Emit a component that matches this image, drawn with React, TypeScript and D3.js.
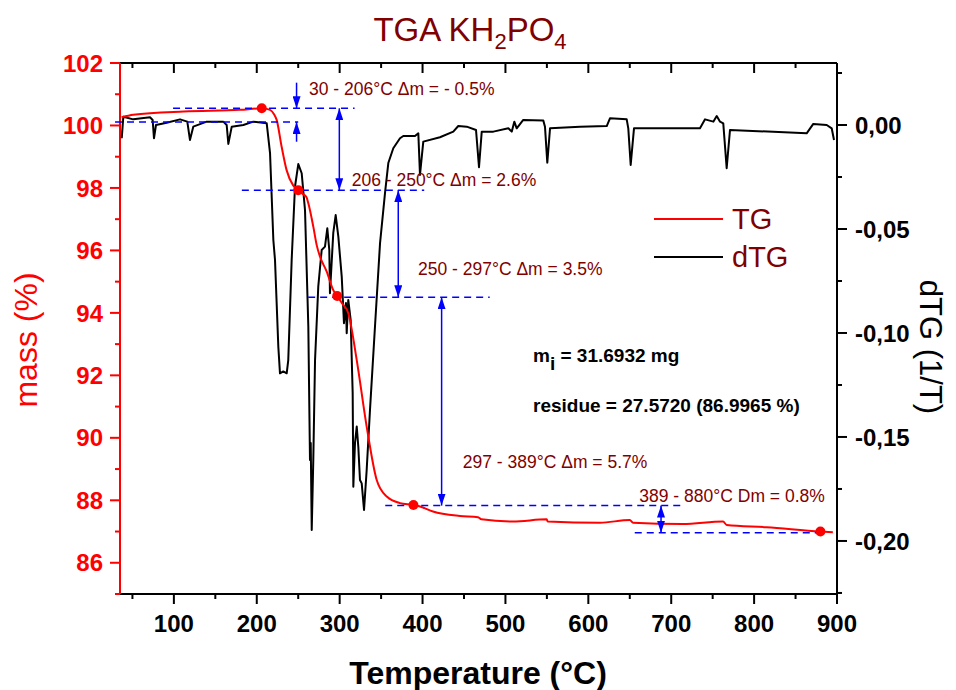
import * as d3 from "d3";

// TG curve: temperature (°C), mass (%)
const tgCurve: [number, number][] = [
  [37, 100.26], [51, 100.34], [112, 100.45], [180, 100.5], [206, 100.55], [216, 100.5],
  [221, 100.35], [224, 100.18], [230, 99.32], [236, 98.57], [243.7, 98.09], [250, 97.93],
  [256, 97.8], [260, 97.7], [262.2, 97.51], [268.2, 96.76], [272.3, 96.17], [276.3, 95.8],
  [284.4, 95.32], [292.3, 94.73], [297, 94.54], [303, 94.3], [310.4, 93.99], [320.6, 92.49],
  [332.6, 90.36], [344.7, 88.65], [356.8, 88.12], [372.8, 87.91], [389, 87.85], [397, 87.8],
  [412.6, 87.64], [445, 87.5], [467, 87.46], [471, 87.39], [509, 87.32], [549.8, 87.39],
  [551, 87.32], [614, 87.28], [650, 87.37], [654, 87.28], [714, 87.24], [762.5, 87.32],
  [767, 87.21], [815, 87.14], [880, 87.0], [895, 86.98],
];

// dTG curve: temperature (°C), 1/T
const dtgCurve: [number, number][] = [
  [37.1, -0.0064], [39, 0.004], [51, 0.0027], [71.2, 0.0037], [74.4, 0.0024], [76, -0.0064],
  [78.4, 0], [91.3, 0.0011], [107.4, 0.0027], [116.2, 0.0016], [119.4, -0.0072], [123.4, -0.0008],
  [139.6, 0.0016], [159.6, 0.0016], [163.7, 0], [165.7, -0.0091], [169.8, -0.0008], [183.8, 0],
  [195.8, 0.0016], [212, 0.0008], [216, -0.0135], [220, -0.0553], [222, -0.0649], [226, -0.1066],
  [228, -0.1194], [232, -0.1185], [236.1, -0.1194], [238, -0.113], [242.1, -0.0649],
  [246.1, -0.0297], [250.1, -0.0188], [254.2, -0.0232], [258.2, -0.0409], [262.2, -0.097],
  [264.2, -0.1611], [265.1, -0.1529], [266.3, -0.1947], [268.2, -0.1611], [270.3, -0.113],
  [274.2, -0.0777], [278.3, -0.0601], [282.3, -0.0585], [285.1, -0.0497], [287.5, -0.0601],
  [288.3, -0.0809], [292.3, -0.0519], [295.2, -0.0433], [298.4, -0.0537], [302.5, -0.0729],
  [305.2, -0.0953], [307.6, -0.0856], [308.5, -0.1001], [310.4, -0.0841], [313.3, -0.0938],
  [315.7, -0.1288], [316.5, -0.1739], [318.5, -0.1529], [320.6, -0.145], [322.5, -0.1547],
  [324.5, -0.1707], [326.6, -0.1723], [329.4, -0.1851], [332.6, -0.1659], [336.6, -0.137],
  [342.6, -0.097], [348.7, -0.0569], [354.7, -0.0328], [358.7, -0.0183], [364.7, -0.0112],
  [372.8, -0.0064], [376.8, -0.0053], [390.9, -0.0053], [394.9, -0.004], [396.9, -0.024],
  [400.9, -0.008], [421, -0.0059], [437.1, -0.0032], [443.1, -0.0005], [453.3, -0.0008],
  [464.5, -0.0024], [468.1, -0.0203], [471.4, -0.0032], [485.4, -0.0032], [503.5, -0.0016],
  [507.6, -0.0032], [510.7, 0.0016], [513.6, -0.0016], [521.5, 0.0024], [545.7, 0.0021],
  [547.7, -0.0008], [550.5, -0.0181], [553.8, -0.0016], [590, -0.0008], [622.2, -0.0005],
  [626.1, 0.0032], [646.3, 0.0027], [648.2, -0.0016], [651.1, -0.0192], [655.1, -0.0016],
  [734.7, -0.0016], [740.8, 0.0027], [750.8, 0.0016], [754.9, 0.0043], [758.9, 0.0016],
  [762.8, 0.0008], [766.9, -0.0208], [770.9, -0.0024], [863.4, -0.004], [871.4, 0.0005],
  [887.6, 0], [893.6, -0.0016], [896.4, -0.0072],
];

// step points on TG
const stepTemps = [206, 250, 297, 389, 880];
const stepMass = [100.55, 97.93, 94.54, 87.85, 87.0];

// dashed reference levels
const levelMass = [100.55, 100.11, 97.93, 94.5, 87.83, 86.96];
const levelFrom = [99, 29, 182, 262, 355, 656];
const levelTo = [318, 250, 402, 481, 714, 876];

// double arrows between levels
const arrowTemps = [299.6, 370.7, 423, 687.7];
const arrowTop = [100.55, 97.93, 94.5, 87.83];
const arrowBottom = [97.93, 94.5, 87.83, 86.96];

// step annotations
const noteText = [
  "30 - 206°C Δm = - 0.5%",
  "206 - 250°C Δm = 2.6%",
  "250 - 297°C Δm = 3.5%",
  "297 - 389°C Δm = 5.7%",
  "389 - 880°C Dm = 0.8%",
];
const noteTemps = [263, 314.5, 394.5, 448.5, 661.5];
const noteMass = [100.98, 98.06, 95.21, 89.03, 87.93];

const xMajor = d3.range(100, 901, 100);
const xMinor = d3.range(50, 900, 100);
const yMajor = d3.range(86, 103, 2);
const yMinor = d3.range(85, 102, 2);
const y2Major = [0, -0.05, -0.1, -0.15, -0.2];
const y2Minor = [0.025, -0.025, -0.075, -0.125, -0.175, -0.225];

const FONT = "'Liberation Sans', Arial, sans-serif";
const DARKRED = "#800000";
const BLUE = "#0000ff";

export default function App() {
  const left = 120, right = 837, top = 63, bottom = 594;
  const x = d3.scaleLinear().domain([35, 900]).range([left, right]);
  const y = d3.scaleLinear().domain([85, 102]).range([bottom, top]);
  const y2 = d3.scaleLinear().domain([-0.2255, 0.0298]).range([bottom, top]);

  const tgLine = d3.line<[number, number]>()
    .x((d) => x(d[0]))
    .y((d) => y(d[1]))
    .curve(d3.curveMonotoneX);
  const dtgLine = d3.line<[number, number]>()
    .x((d) => x(d[0]))
    .y((d) => y2(d[1]));

  return (
    <svg width={956} height={690} style={{ position: "absolute", left: 0, top: 0, background: "#fff" }} fontFamily={FONT}>
      <defs>
        <marker id="ah" viewBox="0 0 12 8" refX="12" refY="4" markerWidth="12" markerHeight="8"
          markerUnits="userSpaceOnUse" orient="auto-start-reverse">
          <path d="M0,0 L12,4 L0,8 Z" fill={BLUE} />
        </marker>
      </defs>

      {/* title */}
      <text x={470} y={41} textAnchor="middle" fontSize={33} fill={DARKRED}>
        TGA KH<tspan fontSize={22} dy={8}>2</tspan>
        <tspan dy={-8}>PO</tspan>
        <tspan fontSize={22} dy={8}>4</tspan>
      </text>

      {/* frame */}
      <line x1={left} x2={right} y1={top} y2={top} stroke="#000" strokeWidth={2} />
      <line x1={left} x2={right} y1={bottom} y2={bottom} stroke="#000" strokeWidth={2} />
      <line x1={right} x2={right} y1={top} y2={bottom} stroke="#000" strokeWidth={2} />

      {/* x axis ticks */}
      {xMajor.map((t) => (
        <g key={"xM" + t}>
          <line x1={x(t)} x2={x(t)} y1={bottom} y2={bottom + 10} stroke="#000" strokeWidth={2} />
          <line x1={x(t)} x2={x(t)} y1={top} y2={top + 10} stroke="#000" strokeWidth={2} />
          <text x={x(t)} y={632} textAnchor="middle" fontSize={24} fontWeight="bold">{t}</text>
        </g>
      ))}
      {xMinor.map((t) => (
        <g key={"xm" + t}>
          <line x1={x(t)} x2={x(t)} y1={bottom} y2={bottom + 5} stroke="#000" strokeWidth={2} />
          <line x1={x(t)} x2={x(t)} y1={top} y2={top + 5} stroke="#000" strokeWidth={2} />
        </g>
      ))}
      <text x={478} y={684} textAnchor="middle" fontSize={32} fontWeight="bold">Temperature (°C)</text>

      {/* left axis */}
      <line x1={left} x2={left} y1={top} y2={bottom} stroke="#ff0000" strokeWidth={2} />
      {yMajor.map((t) => (
        <g key={"yM" + t}>
          <line x1={left - 10} x2={left} y1={y(t)} y2={y(t)} stroke="#ff0000" strokeWidth={2} />
          <text x={103} y={y(t)} dy="0.36em" textAnchor="end" fontSize={24} fontWeight="bold" fill="#ff0000">{t}</text>
        </g>
      ))}
      {yMinor.map((t) => (
        <line key={"ym" + t} x1={left - 5} x2={left} y1={y(t)} y2={y(t)} stroke="#ff0000" strokeWidth={2} />
      ))}
      <text transform="translate(37,340) rotate(-90)" textAnchor="middle" fontSize={32} fill="#ff0000">mass (%)</text>

      {/* right axis */}
      {y2Major.map((t) => (
        <g key={"y2M" + t}>
          <line x1={right} x2={right + 10} y1={y2(t)} y2={y2(t)} stroke="#000" strokeWidth={2} />
          <text x={855} y={y2(t)} dy="0.36em" fontSize={24} fontWeight="bold">{t.toFixed(2).replace(".", ",")}</text>
        </g>
      ))}
      {y2Minor.map((t) => (
        <line key={"y2m" + t} x1={right} x2={right + 5} y1={y2(t)} y2={y2(t)} stroke="#000" strokeWidth={2} />
      ))}
      <text transform="translate(920,347) rotate(90)" textAnchor="middle" fontSize={31}>dTG (1/T)</text>

      {/* curves */}
      <path d={dtgLine(dtgCurve) || ""} fill="none" stroke="#000" strokeWidth={2} strokeLinejoin="round" />
      <path d={tgLine(tgCurve) || ""} fill="none" stroke="#ff0000" strokeWidth={2} />

      {/* dashed levels */}
      {levelMass.map((m, i) => (
        <line key={"lv" + i} x1={x(levelFrom[i])} x2={x(levelTo[i])} y1={y(m)} y2={y(m)}
          stroke={BLUE} strokeWidth={1.5} strokeDasharray="7,5" />
      ))}

      {/* arrows */}
      <line x1={x(248)} x2={x(248)} y1={y(101.37)} y2={y(levelMass[0])} stroke={BLUE} strokeWidth={1.5} markerEnd="url(#ah)" />
      <line x1={x(248)} x2={x(248)} y1={y(99.48)} y2={y(levelMass[1])} stroke={BLUE} strokeWidth={1.5} markerEnd="url(#ah)" />
      {arrowTemps.map((t, i) => (
        <line key={"ar" + i} x1={x(t)} x2={x(t)} y1={y(arrowTop[i])} y2={y(arrowBottom[i])}
          stroke={BLUE} strokeWidth={1.5} markerStart="url(#ah)" markerEnd="url(#ah)" />
      ))}

      {/* step dots */}
      {stepTemps.map((t, i) => (
        <circle key={"dot" + i} cx={x(t)} cy={y(stepMass[i])} r={5} fill="#ff0000" />
      ))}

      {/* notes */}
      {noteText.map((s, i) => (
        <text key={"nt" + i} x={x(noteTemps[i])} y={y(noteMass[i])} fontSize={17.5} fill={DARKRED}>{s}</text>
      ))}

      <text x={533} y={362} fontSize={19} fontWeight="bold">
        m<tspan dy={8} fontSize={19}>i</tspan><tspan dy={-8}> = 31.6932 mg</tspan>
      </text>
      <text x={533} y={412} fontSize={19} fontWeight="bold">residue = 27.5720 (86.9965 %)</text>

      {/* legend */}
      <line x1={654} x2={723} y1={219} y2={219} stroke="#ff0000" strokeWidth={2} />
      <text x={732} y={229} fontSize={29} fill={DARKRED}>TG</text>
      <line x1={654} x2={723} y1={257} y2={257} stroke="#000" strokeWidth={2} />
      <text x={732} y={267} fontSize={29} fill={DARKRED}>dTG</text>
    </svg>
  );
}
